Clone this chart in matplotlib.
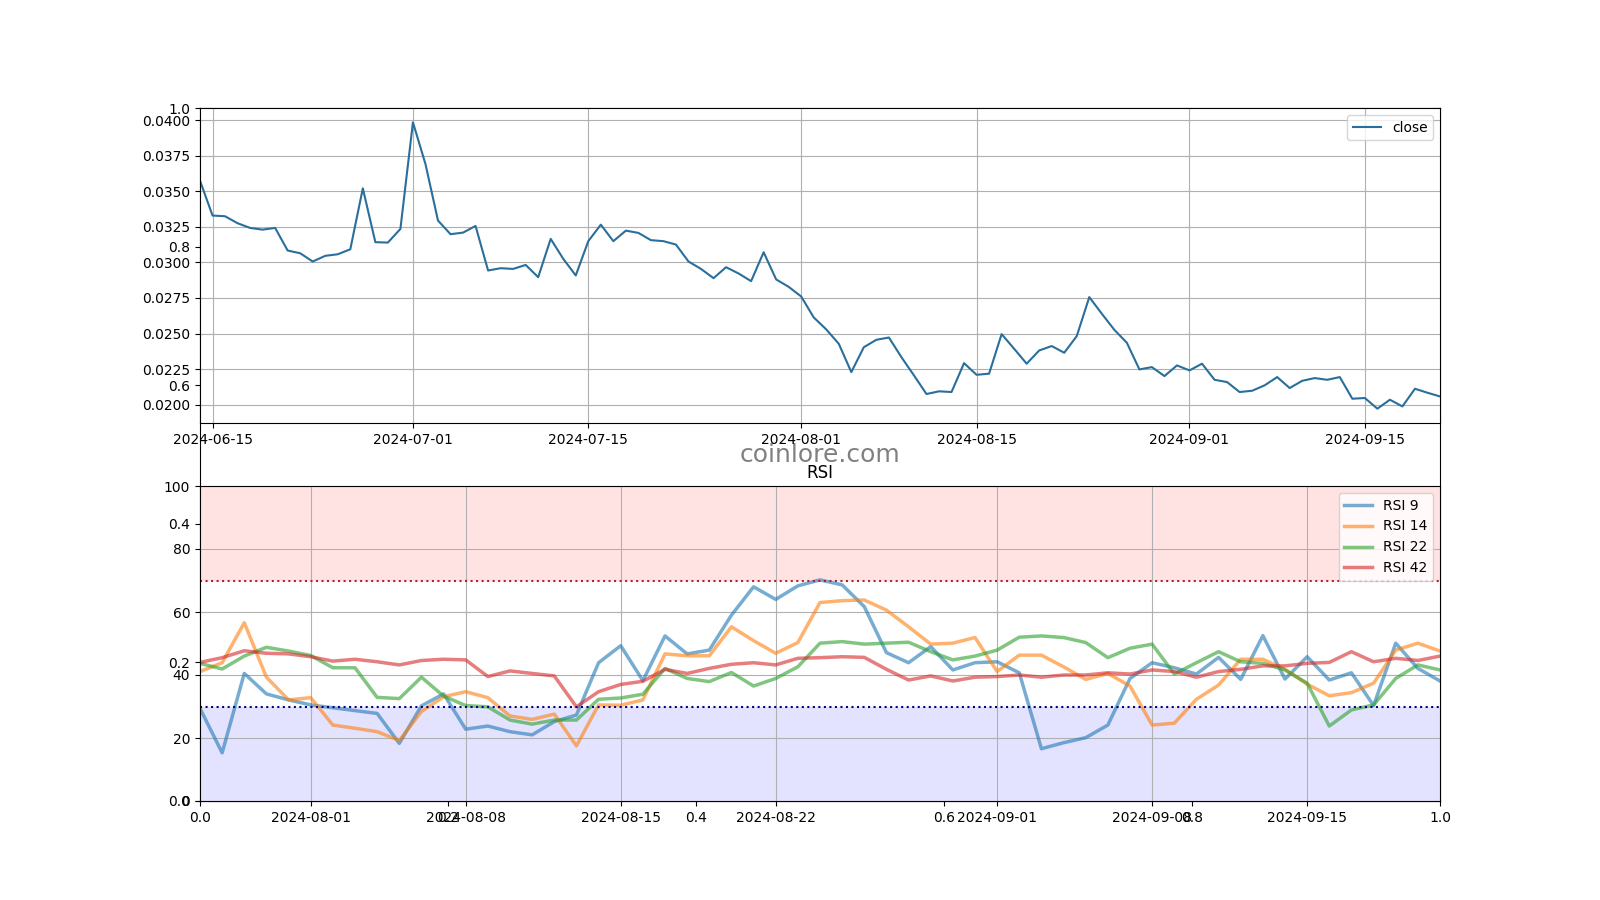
import matplotlib
matplotlib.use("Agg")
import matplotlib.pyplot as plt
import matplotlib.dates as mdates
import numpy as np
import pandas as pd

close_start = "2024-06-14"
close = [0.03574, 0.03329, 0.03324, 0.03275, 0.03242, 0.03230, 0.03242, 0.03083, 0.03064, 0.03006,
         0.03046, 0.03057, 0.03092, 0.03520, 0.03142, 0.03139, 0.03235, 0.03984, 0.03691, 0.03294,
         0.03198, 0.03209, 0.03256, 0.02943, 0.02959, 0.02954, 0.02982, 0.02896, 0.03165, 0.03025,
         0.02908, 0.03149, 0.03265, 0.03149, 0.03223, 0.03207, 0.03156, 0.03149, 0.03125, 0.03006,
         0.02954, 0.02889, 0.02966, 0.02922, 0.02868, 0.03071, 0.02880, 0.02828, 0.02760, 0.02613,
         0.02529, 0.02428, 0.02229, 0.02404, 0.02456, 0.02472, 0.02334, 0.02206, 0.02075, 0.02094,
         0.02089, 0.02292, 0.02210, 0.02218, 0.02496, 0.02393, 0.02288, 0.02381, 0.02412, 0.02365,
         0.02482, 0.02756, 0.02639, 0.02526, 0.02435, 0.02248, 0.02264, 0.02201, 0.02276, 0.02241,
         0.02288, 0.02175, 0.02159, 0.02089, 0.02098, 0.02136, 0.02194, 0.02117, 0.02168, 0.02187,
         0.02175, 0.02194, 0.02042, 0.02047, 0.01972, 0.02035, 0.01988, 0.02112, 0.02084, 0.02058]

rsi_start = "2024-07-27"
rsi9 = [29.4, 15.3, 40.5, 34.0, 32.1, 30.5, 29.6, 28.7, 27.8, 18.3,
        30.2, 34.0, 22.8, 23.8, 22.0, 21.0, 25.2, 27.3, 43.9, 49.3,
        38.2, 52.4, 46.7, 47.9, 59.0, 68.0, 64.0, 68.3, 70.2, 68.6,
        61.7, 47.1, 43.9, 49.0, 41.6, 43.9, 44.2, 40.7, 16.6, 18.5,
        20.1, 24.1, 38.9, 43.9, 42.3, 40.3, 45.6, 38.6, 52.5, 38.7,
        45.8, 38.4, 40.7, 30.3, 50.1, 42.1, 38.1]
rsi14 = [41.1, 43.9, 56.6, 39.3, 32.1, 32.8, 24.1, 23.1, 22.0, 19.2,
         28.4, 33.1, 34.7, 32.8, 27.0, 25.9, 27.6, 17.5, 30.5, 30.4,
         32.1, 46.7, 46.1, 46.1, 55.3, 50.9, 46.9, 50.3, 63.0, 63.6,
         63.8, 60.6, 55.3, 49.8, 50.1, 51.9, 41.1, 46.3, 46.3, 42.6,
         38.6, 40.5, 36.5, 24.1, 24.7, 32.3, 36.8, 45.0, 45.0, 41.8,
         37.1, 33.4, 34.4, 37.4, 47.9, 50.1, 47.6]
rsi22 = [43.7, 41.9, 46.0, 48.8, 47.6, 46.2, 42.3, 42.3, 32.9, 32.5,
         39.3, 33.3, 30.3, 29.9, 25.7, 24.4, 25.7, 25.7, 32.3, 32.7,
         33.9, 42.1, 38.9, 37.9, 40.8, 36.5, 38.9, 42.6, 50.1, 50.6,
         49.8, 50.1, 50.4, 47.4, 44.8, 46.0, 47.9, 52.0, 52.4, 51.9,
         50.3, 45.5, 48.5, 49.8, 40.3, 43.9, 47.4, 44.2, 43.7, 41.6,
         37.4, 23.8, 28.9, 30.5, 38.9, 43.2, 41.6]
rsi42 = [44.0, 45.5, 47.7, 46.9, 46.7, 45.8, 44.4, 45.0, 44.2, 43.2,
         44.6, 45.0, 44.8, 39.5, 41.3, 40.5, 39.7, 29.9, 34.7, 37.0,
         38.0, 41.8, 40.5, 42.1, 43.4, 43.9, 43.2, 45.3, 45.5, 45.8,
         45.6, 41.8, 38.4, 39.7, 38.1, 39.3, 39.5, 40.0, 39.3, 40.0,
         40.0, 40.7, 40.3, 41.6, 41.1, 39.3, 41.1, 41.8, 42.9, 42.9,
         43.7, 44.0, 47.4, 44.2, 45.3, 44.6, 46.0]
rsi_labels = ["RSI 9", "RSI 14", "RSI 22", "RSI 42"]

close_dates = pd.date_range(close_start, periods=len(close), freq="D")
rsi_dates = pd.date_range(rsi_start, periods=len(rsi9), freq="D")

fig = plt.figure(figsize=(16, 9), dpi=100)
ax0 = fig.add_subplot(111)
ax0.text(0.5, 0.5, "coinlore.com", transform=ax0.transAxes, ha="center", va="center",
         fontsize=18, color="#808080", zorder=10)

ax1 = fig.add_subplot(211)
ax1.plot(close_dates, close, color="#2a6f9b", lw=1.5, label="close")
ax1.set_xlim(close_dates[0], close_dates[-1])
ax1.xaxis.set_major_locator(mdates.DayLocator(bymonthday=[1, 15]))
ax1.xaxis.set_major_formatter(mdates.DateFormatter("%Y-%m-%d"))
ax1.grid(True)
ax1.legend(loc="upper right")

ax2 = fig.add_subplot(212)
colors = ["#1f77b4", "#ff7f0e", "#2ca02c", "#d62728"]
for vals, lab, c in zip([rsi9, rsi14, rsi22, rsi42], rsi_labels, colors):
    ax2.plot(rsi_dates, vals, color=c, lw=2.5, alpha=0.6, label=lab)
ax2.axhspan(70, 100, color="red", alpha=0.11, lw=0)
ax2.axhspan(0, 30, color="blue", alpha=0.11, lw=0)
ax2.axhline(70, color="#b02030", ls=":", lw=1.5)
ax2.axhline(30, color="navy", ls=":", lw=1.5)
ax2.set_ylim(0, 100)
ax2.set_xlim(rsi_dates[0], rsi_dates[-1])
ax2.xaxis.set_major_locator(mdates.DayLocator(bymonthday=[1, 8, 15, 22]))
ax2.xaxis.set_major_formatter(mdates.DateFormatter("%Y-%m-%d"))
ax2.grid(True)
ax2.set_title("RSI")
ax2.legend(loc="upper right")

fig.savefig("out.png", dpi=100)
